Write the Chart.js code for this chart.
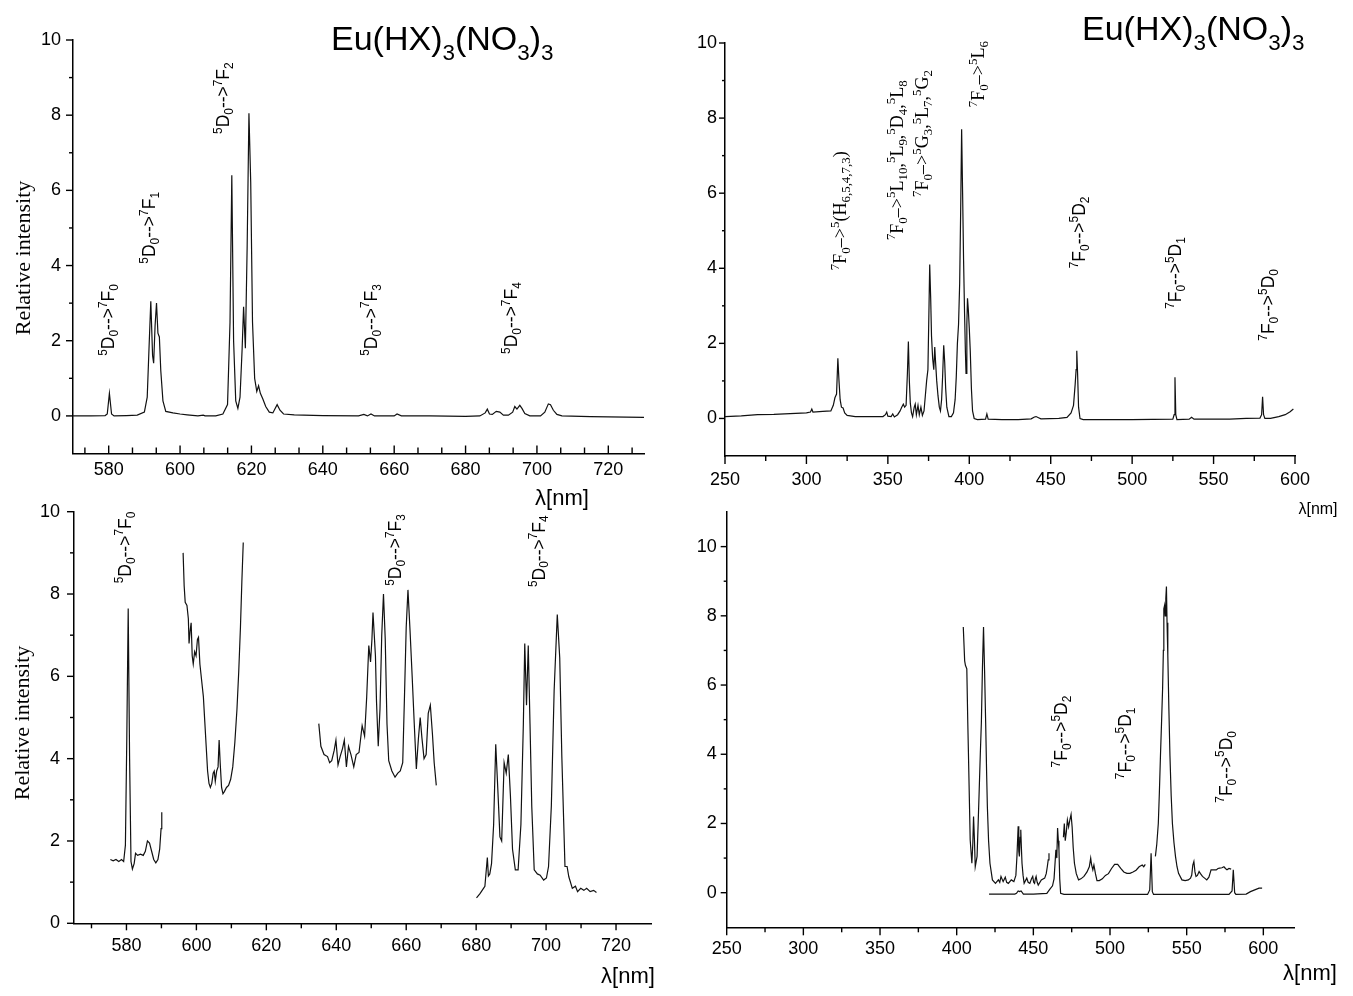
<!DOCTYPE html>
<html>
<head>
<meta charset="utf-8">
<title>Eu(HX)3(NO3)3 spectra</title>
<script src="https://cdn.jsdelivr.net/npm/chart.js@4.4.0/dist/chart.umd.min.js"></script>
<style>
html, body { margin: 0; padding: 0; background: #fff; }
#wrap { position: relative; width: 1353px; height: 996px; overflow: hidden; background: #fff; }
#wrap canvas { position: absolute; left: 0; top: 0; }
</style>
</head>
<body>
<div id="wrap">
  <canvas id="tl" width="1353" height="996"></canvas>
  <canvas id="tr" width="1353" height="996"></canvas>
  <canvas id="bl" width="1353" height="996"></canvas>
  <canvas id="br" width="1353" height="996"></canvas>
</div>
<script>
"use strict";

// ---- top left: emission, full range ----
const tlWave = [570, 575, 579, 579.6, 580.2, 580.8, 581.5, 585, 588, 590, 590.8, 591.3, 591.8, 592.3, 592.6, 593, 593.4, 593.8, 594.2, 594.6, 595.2, 596, 598, 600, 602, 605, 606.5, 607, 610, 612, 613.3, 614, 614.5, 615, 615.6, 616.2, 616.8, 617.4, 617.8, 618.3, 618.8, 619.3, 619.8, 620.3, 620.9, 621.5, 622, 622.5, 623.2, 624, 625, 626, 627.2, 628, 629, 632, 640, 650, 651.5, 652.5, 653.5, 654.5, 660, 660.8, 662, 670, 680, 684, 685.5, 686.1, 686.7, 687.5, 688.6, 689.6, 690.6, 692, 693.2, 693.8, 694.4, 695.2, 695.8, 696.6, 698, 701, 702.2, 703.2, 703.8, 704.6, 705.6, 707, 715, 730];
const tlInt = [0, 0, 0.01, 0.05, 0.6, 0.05, 0, 0.01, 0.02, 0.1, 0.5, 1.8, 3.05, 1.6, 1.4, 2.4, 3.0, 2.2, 2.1, 1.2, 0.4, 0.12, 0.08, 0.05, 0.03, 0, 0.02, 0, 0, 0.05, 0.3, 2.5, 6.4, 2.0, 0.4, 0.2, 0.5, 1.8, 2.9, 1.8, 4.5, 8.05, 6.2, 2.5, 1.0, 0.65, 0.8, 0.6, 0.45, 0.25, 0.1, 0.08, 0.3, 0.15, 0.05, 0.03, 0.01, 0, 0.04, 0, 0.05, 0, 0, 0.05, 0, 0, -0.01, 0, 0.08, 0.18, 0.05, 0.04, 0.12, 0.1, 0.02, 0.02, 0.1, 0.25, 0.18, 0.28, 0.2, 0.06, 0, 0, 0.1, 0.32, 0.3, 0.15, 0.04, 0, -0.02, -0.04];
const tlXTicks = [580, 600, 620, 640, 660, 680, 700, 720];
const tlYTicks = [0, 2, 4, 6, 8, 10];
const tlLabels = ['^5D_0-->^7F_0', '^5D_0-->^7F_1', '^5D_0-->^7F_2', '^5D_0-->^7F_3', '^5D_0-->^7F_4'];
const tlLabelX = [579.9, 591.4, 612.0, 653.4, 692.7];
const tlLabelY = [1.6, 4.05, 7.5, 1.6, 1.65];

// ---- top right: excitation ----
const trWave = [250, 260, 270, 280, 290, 300, 302.5, 303.3, 304, 310, 315, 316.5, 317.5, 318.5, 319.3, 320, 320.7, 321.5, 322.5, 323.5, 325, 330, 340, 347, 348.5, 349.3, 350, 352, 353, 354, 356, 357.5, 358.5, 359.5, 360.3, 361.2, 362, 362.6, 363.2, 363.8, 364.5, 365.2, 366.2, 366.8, 367.5, 368.5, 369.3, 370.3, 371.2, 372.2, 373, 373.8, 374.6, 375.2, 375.7, 376.3, 376.8, 377.5, 378.2, 378.8, 379.3, 380, 380.8, 381.6, 382.3, 383, 383.6, 384.3, 384.9, 385.5, 386.2, 387.5, 389, 390.3, 391.3, 392, 392.7, 393.4, 394.1, 394.7, 395.3, 395.9, 396.5, 397.1, 397.6, 398, 398.5, 398.9, 399.4, 400, 400.6, 401.3, 402, 403, 405, 410, 410.8, 411.6, 420, 430, 438, 440, 441, 442.5, 444, 455, 460, 462.5, 464, 465, 465.6, 466, 466.5, 467.1, 468, 470, 500, 525, 525.8, 526.3, 526.8, 527.5, 535, 536.5, 538, 560, 570, 578.5, 579.5, 580.1, 580.7, 581.5, 585, 590, 594, 597, 599];
const trInt = [0.05, 0.07, 0.1, 0.11, 0.13, 0.15, 0.17, 0.25, 0.17, 0.19, 0.2, 0.35, 0.55, 0.65, 1.6, 1.0, 0.5, 0.3, 0.28, 0.15, 0.08, 0.05, 0.05, 0.05, 0.1, 0.17, 0.06, 0.05, 0.12, 0.04, 0.1, 0.2, 0.3, 0.38, 0.3, 0.35, 1.2, 2.05, 1.0, 0.4, 0.15, 0.05, 0.3, 0.38, 0.1, 0.35, 0.1, 0.3, 0.08, 0.2, 0.6, 1.0, 1.3, 2.8, 4.1, 3.2, 2.2, 1.6, 1.3, 1.9, 1.5, 1.0, 0.6, 0.3, 0.2, 0.5, 1.1, 1.95, 1.5, 0.8, 0.3, 0.05, 0.05, 0.15, 0.5, 1.1, 2.0, 2.5, 3.6, 5.5, 7.7, 6.0, 4.2, 2.8, 1.8, 1.2, 2.5, 3.2, 2.9, 2.4, 1.8, 0.8, 0.2, 0, -0.03, -0.02, 0.12, -0.02, -0.03, -0.03, -0.01, 0.04, 0.05, 0.02, -0.01, 0, 0.03, 0.15, 0.35, 0.9, 1.3, 1.8, 1.2, 0.3, 0, -0.03, -0.03, -0.02, 0.1, 1.1, 0.1, -0.03, -0.02, 0.03, -0.02, -0.02, 0, 0.01, 0.1, 0.58, 0.1, 0, 0, 0.05, 0.1, 0.18, 0.25];
const trXTicks = [250, 300, 350, 400, 450, 500, 550, 600];
const trYTicks = [0, 2, 4, 6, 8, 10];
const trLabels = ['^7F_0–>^5(H_{6,5,4,7,3})', '^7F_0–>^5L_{10},^5L_9,^5D_4,^5L_8', '^7F_0–>^5G_3,^5L_7,^5G_2', '^7F_0–>^5L_6', '^7F_0-->^5D_2', '^7F_0-->^5D_1', '^7F_0-->^5D_0'];
const trLabelX = [320.6, 355.4, 370.9, 405.3, 467.5, 526.4, 583.5];
const trLabelY = [3.95, 4.75, 5.9, 8.29, 4.0, 2.92, 2.07];
const trLabelSerif = [true, true, true, true, false, false, false];

// ---- bottom left: emission, expanded pieces ----
const blWaveA = [575.4, 576.2, 577, 577.8, 578.6, 579.2, 579.7, 580.1, 580.5, 580.9, 581.3, 581.7, 582.2, 582.6, 583.2, 584, 584.8, 585.4, 586, 586.6, 587.2, 587.8, 588.4, 589, 589.5, 589.9, 590.1];
const blIntA = [1.55, 1.52, 1.55, 1.5, 1.55, 1.5, 1.9, 4.5, 7.65, 4.0, 1.5, 1.32, 1.45, 1.7, 1.65, 1.68, 1.65, 1.75, 2.0, 1.95, 1.75, 1.55, 1.47, 1.55, 1.8, 2.3, 2.7];
const blWaveB = [596.2, 596.5, 596.8, 597.3, 597.7, 597.9, 598.2, 598.5, 598.8, 599.1, 599.5, 599.9, 600.3, 600.6, 601, 601.5, 602, 602.4, 602.8, 603.2, 603.6, 604, 604.4, 604.8, 605.1, 605.4, 605.8, 606.2, 606.5, 606.8, 607.2, 607.6, 608, 608.6, 609.2, 609.8, 610.4, 611, 611.6, 612.1, 612.6, 613, 613.4];
const blIntB = [9.0, 8.2, 7.8, 7.72, 7.4, 6.8, 7.1, 7.3, 6.5, 6.3, 6.6, 6.5, 6.9, 6.95, 6.3, 5.9, 5.5, 4.9, 4.3, 3.7, 3.4, 3.3, 3.4, 3.65, 3.7, 3.45, 3.7, 3.8, 4.45, 3.9, 3.3, 3.15, 3.2, 3.3, 3.35, 3.5, 3.8, 4.4, 5.2, 6.1, 7.2, 8.3, 9.25];
const blWaveC = [635, 635.6, 636.5, 637.5, 638.1, 638.7, 639.4, 639.9, 640.5, 641.1, 641.8, 642.3, 642.9, 643.5, 644.2, 645, 645.7, 646.5, 647.4, 648.1, 648.7, 649.3, 649.8, 650.2, 650.5, 651.2, 651.5, 652, 652.5, 653, 653.5, 654, 654.5, 655, 655.9, 656.8, 657.6, 658.3, 659, 659.5, 660, 660.5, 661.1, 661.7, 662.3, 662.9, 663.5, 664, 664.5, 665.1, 665.7, 666.3, 666.9, 667.5, 668, 668.6];
const blIntC = [4.85, 4.3, 4.1, 4.05, 3.9, 3.95, 4.2, 4.45, 3.85, 4.05, 4.25, 4.45, 3.8, 4.3, 4.1, 3.8, 4.1, 4.15, 4.8, 4.55, 5.5, 6.75, 6.35, 6.9, 7.55, 6.5, 5.4, 4.3, 5.2, 7.0, 8.0, 6.9, 4.85, 3.95, 3.7, 3.55, 3.65, 3.7, 3.9, 5.5, 7.2, 8.1, 7.1, 6.0, 4.85, 3.75, 4.5, 5.0, 4.5, 4.0, 4.1, 5.1, 5.3, 4.6, 3.9, 3.35];
const blWaveD = [680.1, 681.1, 682.1, 682.5, 683.2, 683.5, 683.9, 684.4, 685, 685.6, 686.2, 686.8, 687.3, 688, 688.6, 689.2, 689.8, 690.4, 691.2, 692, 692.8, 693.5, 693.9, 694.4, 694.9, 695.4, 695.9, 696.6, 697.5, 698.3, 699.3, 700.1, 700.7, 701.5, 702.3, 703.2, 703.9, 704.5, 705.4, 706, 706.5, 707.5, 708.4, 709, 709.9, 710.8, 711.6, 712.6, 713.6, 714.4];
const blIntD = [0.62, 0.72, 0.85, 0.9, 1.6, 1.15, 1.2, 1.45, 2.4, 4.35, 3.25, 2.1, 2.0, 3.9, 3.65, 4.1, 3.1, 1.8, 1.3, 1.3, 2.4, 4.85, 6.8, 5.3, 6.75, 4.85, 2.85, 1.3, 1.2, 1.17, 1.05, 1.1, 1.38, 2.85, 5.65, 7.5, 6.45, 4.05, 1.38, 1.38, 1.13, 0.85, 0.9, 0.77, 0.85, 0.8, 0.85, 0.77, 0.8, 0.75];
const blXTicks = [580, 600, 620, 640, 660, 680, 700, 720];
const blYTicks = [0, 2, 4, 6, 8, 10];
const blLabels = ['^5D_0-->^7F_0', '^5D_0-->^7F_3', '^5D_0-->^7F_4'];
const blLabelX = [579.5, 656.8, 697.8];
const blLabelY = [8.26, 8.2, 8.17];

// ---- bottom right: excitation, two traces ----
const brWaveUA = [404.3, 405.2, 405.7, 406.6, 407.2, 407.7, 408.8, 409.9, 410.5, 411, 411.6, 412.1, 412.7, 413.3, 414, 414.7, 415.4, 416.1, 416.8, 417.5, 418.2, 418.9, 419.5, 420, 420.8, 421.7, 423.3, 425.3, 427.2, 428.1, 428.9, 430.3, 431.7, 432.6, 433.7, 435.6, 437.3, 438.6, 439.3, 440.1, 440.5, 440.9, 441.4, 441.8, 442.2, 442.6, 443.3, 444, 445.7, 446.6, 447.7, 448.8, 449.6, 450.2, 450.8, 451.3, 451.8, 452.5, 453.2, 455.2, 457.4, 458.4, 459.1, 459.7, 460.2];
const brIntUA = [7.68, 6.7, 6.57, 6.47, 5.0, 3.95, 1.53, 0.85, 1.4, 2.2, 1.5, 0.75, 0.9, 1.05, 2.0, 2.98, 4.0, 4.92, 6.5, 7.68, 6.4, 4.92, 3.5, 2.5, 1.5, 0.85, 0.37, 0.27, 0.37, 0.3, 0.47, 0.32, 0.45, 0.3, 0.27, 0.37, 0.32, 0.5, 1.05, 1.92, 1.2, 1.05, 1.6, 1.82, 1.3, 0.85, 0.5, 0.27, 0.42, 0.3, 0.27, 0.4, 0.47, 0.3, 0.27, 0.4, 0.47, 0.3, 0.22, 0.37, 0.42, 0.55, 0.75, 0.95, 1.14];
const brWaveUB = [469.6, 470.2, 470.8, 471.5, 472.2, 473, 473.8, 474.6, 475.3, 476, 476.8, 478, 479.5, 481, 483, 485, 486.5, 487.4, 488, 488.8, 489.5, 490.5, 491.5, 493, 495, 497, 499, 501, 503, 505, 507, 509, 511, 513, 515, 517, 519, 521, 522, 523];
const brIntUB = [1.6, 2.0, 1.5, 1.75, 2.1, 1.9, 2.1, 2.26, 1.9, 1.3, 0.85, 0.55, 0.37, 0.4, 0.47, 0.6, 0.75, 1.0, 0.8, 0.66, 0.8, 0.55, 0.35, 0.35, 0.4, 0.5, 0.55, 0.7, 0.82, 0.82, 0.7, 0.6, 0.56, 0.56, 0.6, 0.65, 0.75, 0.8, 0.75, 0.82];
const brWaveUC = [529.6, 530.5, 531.5, 532.2, 532.9, 533.6, 534.3, 534.8, 535.1, 535.6, 536, 536.4, 536.8, 537.2, 537.7, 538.4, 539.1, 539.9, 540.7, 541.7, 542.7, 543.7, 544.7, 546.9, 549, 551.1, 552.5, 553.3, 554, 554.7, 555.4, 556.1, 557, 558.1, 559, 560.3, 561.7, 563.1, 564.5, 565.9, 567.6, 569.3, 570.4, 571.5, 573, 574.3, 575.3, 576.3, 577.6, 579];
const brIntUC = [1.05, 1.4, 2.0, 2.9, 3.95, 4.9, 5.9, 7.0, 8.2, 8.3, 8.0, 8.5, 8.85, 7.8, 6.86, 5.3, 3.95, 2.8, 2.0, 1.45, 1.05, 0.75, 0.56, 0.37, 0.35, 0.37, 0.42, 0.51, 0.8, 0.9, 0.6, 0.47, 0.5, 0.61, 0.55, 0.47, 0.42, 0.37, 0.45, 0.66, 0.66, 0.66, 0.7, 0.71, 0.72, 0.75, 0.7, 0.66, 0.7, 0.68];
const brWaveL = [421.1, 430, 437.9, 439, 440.1, 441, 442, 443.5, 450, 458.8, 460.8, 462.5, 463.5, 464.7, 465.3, 465.8, 466.3, 466.7, 467.2, 467.8, 470, 490, 510, 524.5, 525.9, 526.8, 527.6, 528.4, 550, 577.6, 579.6, 580.4, 581.3, 582.1, 588.8, 591.6, 594.4, 597.2, 599.2];
const brIntL = [-0.04, -0.04, -0.04, -0.02, 0.05, 0.03, 0.05, -0.04, -0.04, -0.02, 0.1, 0.2, 0.4, 1.24, 1.0, 1.87, 1.5, 1.24, 0.4, -0.02, -0.05, -0.05, -0.05, -0.05, 0.08, 1.14, 0.03, -0.05, -0.05, -0.05, 0.05, 0.66, 0, -0.05, -0.04, 0.03, 0.08, 0.13, 0.13];
const brXTicks = [250, 300, 350, 400, 450, 500, 550, 600];
const brYTicks = [0, 2, 4, 6, 8, 10];
const brLabels = ['^7F_0-->^5D_2', '^7F_0-->^5D_1', '^7F_0-->^5D_0'];
const brLabelX = [468, 510, 575.4];
const brLabelY = [3.62, 3.28, 2.6];

const SANS = 'Liberation Sans';
const SERIF = 'Liberation Serif';

function zip(xs, ys) {
    return xs.map((x, i) => ({ x: x, y: ys[i] }));
}

function trace(xs, ys) {
    return {
        data: zip(xs, ys),
        borderColor: '#111',
        borderWidth: 1.2,
        pointRadius: 0,
        tension: 0,
        fill: false,
    };
}

// "^5D_0" style markup -> pieces
function parseRich(str) {
    const parts = [];
    let i = 0;
    while (i < str.length) {
        const c = str[i];
        if (c === '^' || c === '_') {
            let t;
            if (str[i + 1] === '{') {
                const j = str.indexOf('}', i);
                t = str.slice(i + 2, j);
                i = j + 1;
            } else {
                t = str[i + 1];
                i += 2;
            }
            parts.push({ t: t, mode: c === '^' ? 'sup' : 'sub' });
        } else {
            let j = i;
            while (j < str.length && str[j] !== '^' && str[j] !== '_') j++;
            parts.push({ t: str.slice(i, j), mode: 'n' });
            i = j;
        }
    }
    return parts;
}

function drawRich(ctx, item) {
    const size = item.size;
    const small = item.small || 0.68;
    const parts = parseRich(item.text);
    ctx.save();
    ctx.translate(item.px, item.py);
    if (item.rotate) ctx.rotate(-Math.PI / 2);
    ctx.textBaseline = 'alphabetic';
    ctx.textAlign = 'left';
    ctx.fillStyle = '#000';
    let w = 0;
    parts.forEach(p => {
        p.s = p.mode === 'n' ? size : size * small;
        ctx.font = p.s + 'px "' + item.family + '"';
        p.w = ctx.measureText(p.t).width;
        w += p.w;
    });
    let cx = item.align === 'center' ? -w / 2 : 0;
    const base = item.baseline === 'alpha' ? 0 : size * 0.35;
    parts.forEach(p => {
        ctx.font = p.s + 'px "' + item.family + '"';
        const dy = p.mode === 'sup' ? -size * 0.42 : (p.mode === 'sub' ? size * (item.subDrop || 0.22) : 0);
        ctx.fillText(p.t, cx, base + dy);
        cx += p.w;
    });
    ctx.restore();
}

// tick marks (major at label values, minor between), inward or outward
const axisTicks = {
    id: 'axisTicks',
    afterDraw(chart, args, o) {
        const ctx = chart.ctx;
        const a = chart.chartArea;
        const xs = chart.scales.x;
        const ys = chart.scales.y;
        ctx.save();
        ctx.strokeStyle = '#000';
        ctx.lineWidth = 1.4;
        const near = (v, list) => list.some(m => Math.abs(m - v) < 1e-6);
        const xMark = (v, len) => {
            const p = xs.getPixelForValue(v);
            ctx.beginPath();
            ctx.moveTo(p, a.bottom);
            ctx.lineTo(p, a.bottom + o.xDir * len);
            ctx.stroke();
        };
        const yMark = (v, len) => {
            const p = ys.getPixelForValue(v);
            ctx.beginPath();
            ctx.moveTo(a.left, p);
            ctx.lineTo(a.left - len, p);
            ctx.stroke();
        };
        o.xMajor.forEach(v => xMark(v, o.xLen));
        for (let v = o.xMinorStart; v < xs.max - 1e-6; v += o.xMinorStep) {
            if (!near(v, o.xMajor)) xMark(v, o.xMinorLen);
        }
        o.yMajor.forEach(v => yMark(v, o.yLen));
        for (let v = Math.ceil(ys.min) + 1; v < ys.max; v += 1) {
            if (!near(v, o.yMajor)) yMark(v, o.yMinorLen);
        }
        ctx.restore();
    }
};

const richText = {
    id: 'richText',
    afterDraw(chart, args, o) {
        const ctx = chart.ctx;
        (o.items || []).forEach(it => {
            const item = Object.assign({}, it);
            if (it.x !== undefined) {
                item.px = chart.scales.x.getPixelForValue(it.x);
                item.py = chart.scales.y.getPixelForValue(it.y);
            }
            drawRich(ctx, item);
        });
    }
};

function annotations(texts, xs, ys, serif) {
    return texts.map((t, i) => {
        const isSerif = serif ? serif[i] : false;
        return {
            text: t, x: xs[i], y: ys[i], rotate: true,
            family: isSerif ? SERIF : SANS,
            size: isSerif ? 18 : 17.5,
            small: isSerif ? 0.72 : 0.68,
        };
    });
}

function panel(id, box, xRange, yRange, xTicks, yTicks, datasets, opt) {
    const W = 1353, H = 996, YW = 50, XH = 44;
    return new Chart(document.getElementById(id), {
        type: 'line',
        data: { datasets: datasets },
        options: {
            responsive: false,
            animation: false,
            devicePixelRatio: 1,
            layout: { padding: { left: box.l - YW, right: W - box.r, top: box.t, bottom: H - box.b - XH } },
            plugins: {
                legend: { display: false },
                tooltip: { enabled: false },
                axisTicks: opt.ticks,
                richText: { items: opt.texts },
            },
            scales: {
                x: {
                    type: 'linear',
                    min: xRange[0],
                    max: xRange[1],
                    afterBuildTicks: s => { s.ticks = xTicks.map(v => ({ value: v })); },
                    afterFit: s => { s.height = XH; },
                    grid: { display: false, drawTicks: false },
                    border: { display: true, color: '#000', width: 1.5 },
                    ticks: {
                        color: '#000',
                        font: { family: SANS, size: 18 },
                        padding: opt.xPad,
                        maxRotation: 0,
                        autoSkip: false,
                        callback: v => String(v),
                    },
                },
                y: {
                    type: 'linear',
                    min: yRange[0],
                    max: yRange[1],
                    afterBuildTicks: s => { s.ticks = yTicks.map(v => ({ value: v })); },
                    afterFit: s => { s.width = YW; },
                    grid: { display: false, drawTicks: false },
                    border: { display: true, color: '#000', width: 1.5 },
                    ticks: {
                        color: '#000',
                        font: { family: SANS, size: 18 },
                        padding: opt.yPad,
                        callback: v => String(v),
                    },
                },
            },
        },
        plugins: [axisTicks, richText],
    });
}

document.addEventListener('DOMContentLoaded', () => {
    // top left
    panel('tl', { l: 73, r: 644, t: 40, b: 453.5 }, [570, 730], [-1, 10], tlXTicks, tlYTicks,
        [trace(tlWave, tlInt)],
        {
            xPad: 6, yPad: 12,
            ticks: { xMajor: tlXTicks, xMinorStart: 570 + 10 / 3, xMinorStep: 20 / 3, xLen: 8, xMinorLen: 6, xDir: -1, yMajor: tlYTicks, yLen: 7, yMinorLen: 4 },
            texts: annotations(tlLabels, tlLabelX, tlLabelY).concat([
                { text: 'Eu(HX)_3(NO_3)_3', px: 331, py: 50, size: 34, family: SANS, baseline: 'alpha', small: 0.66, subDrop: 0.3 },
                { text: 'Relative intensity', px: 22, py: 258, size: 22, family: SERIF, rotate: true, align: 'center' },
                { text: 'λ[nm]', px: 562, py: 497, size: 22, family: SANS, align: 'center' },
            ]),
        });

    // top right
    panel('tr', { l: 725, r: 1295, t: 43, b: 456 }, [250, 600], [-1, 10], trXTicks, trYTicks,
        [trace(trWave, trInt)],
        {
            xPad: 13, yPad: 8,
            ticks: { xMajor: trXTicks, xMinorStart: 275, xMinorStep: 50, xLen: 8, xMinorLen: 5, xDir: 1, yMajor: trYTicks, yLen: 6, yMinorLen: 3 },
            texts: annotations(trLabels, trLabelX, trLabelY, trLabelSerif).concat([
                { text: 'Eu(HX)_3(NO_3)_3', px: 1082, py: 39.5, size: 34, family: SANS, baseline: 'alpha', small: 0.66, subDrop: 0.3 },
                { text: 'λ[nm]', px: 1318, py: 508, size: 16, family: SANS, align: 'center' },
            ]),
        });

    // bottom left
    panel('bl', { l: 74, r: 651, t: 511.7, b: 923.3 }, [565, 730], [0, 10], blXTicks, blYTicks,
        [trace(blWaveA, blIntA), trace(blWaveB, blIntB), trace(blWaveC, blIntC), trace(blWaveD, blIntD)],
        {
            xPad: 12, yPad: 14,
            ticks: { xMajor: blXTicks, xMinorStart: 570, xMinorStep: 20, xLen: 7, xMinorLen: 5, xDir: 1, yMajor: blYTicks, yLen: 7, yMinorLen: 4 },
            texts: annotations(blLabels, blLabelX, blLabelY).concat([
                { text: 'Relative intensity', px: 21, py: 723, size: 22, family: SERIF, rotate: true, align: 'center' },
                { text: 'λ[nm]', px: 628, py: 975, size: 22, family: SANS, align: 'center' },
            ]),
        });

    // bottom right
    panel('br', { l: 726.7, r: 1294, t: 512, b: 927.3 }, [250, 620], [-1, 11], brXTicks, brYTicks,
        [trace(brWaveUA, brIntUA), trace(brWaveUB, brIntUB), trace(brWaveUC, brIntUC), trace(brWaveL, brIntL)],
        {
            xPad: 11, yPad: 10,
            ticks: { xMajor: brXTicks, xMinorStart: 275, xMinorStep: 50, xLen: 8, xMinorLen: 5, xDir: 1, yMajor: brYTicks, yLen: 6, yMinorLen: 3 },
            texts: annotations(brLabels, brLabelX, brLabelY).concat([
                { text: 'λ[nm]', px: 1310, py: 972, size: 22, family: SANS, align: 'center' },
            ]),
        });
});
</script>
</body>
</html>
